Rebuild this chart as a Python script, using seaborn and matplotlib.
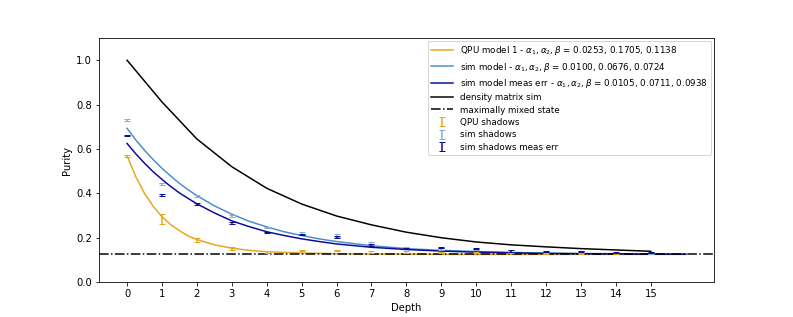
import matplotlib
matplotlib.use("Agg")
import matplotlib.pyplot as plt
import seaborn as sns
import pandas as pd

# depths for the shadow data and the density matrix sim
depths = list(range(16))

# fitted model curves
fit_depths = [0, 0.25, 0.5, 0.75, 1, 1.25, 1.5, 1.75, 2, 2.5, 3, 3.5, 4, 4.5,
              5, 5.5, 6, 7, 8, 9, 10, 11, 12, 13, 14, 15, 16]
qpu_model = [0.570, 0.475, 0.400, 0.341, 0.295, 0.259, 0.232, 0.208, 0.192,
             0.168, 0.153, 0.143, 0.137, 0.134, 0.131, 0.130, 0.128, 0.127,
             0.126, 0.125, 0.125, 0.125, 0.125, 0.125, 0.125, 0.125, 0.125]
sim_model = [0.693, 0.641, 0.594, 0.552, 0.513, 0.478, 0.445, 0.416, 0.390,
             0.344, 0.306, 0.274, 0.249, 0.227, 0.210, 0.195, 0.183, 0.164,
             0.151, 0.143, 0.138, 0.134, 0.131, 0.129, 0.128, 0.127, 0.126]
sim_err_model = [0.625, 0.578, 0.536, 0.497, 0.463, 0.431, 0.402, 0.377, 0.353,
                 0.312, 0.276, 0.250, 0.227, 0.210, 0.195, 0.183, 0.172, 0.157,
                 0.147, 0.140, 0.135, 0.132, 0.129, 0.128, 0.127, 0.126, 0.126]

density_matrix = [1.0, 0.812, 0.645, 0.520, 0.423, 0.352, 0.298, 0.258,
                  0.225, 0.200, 0.181, 0.168, 0.159, 0.151, 0.145, 0.139]
max_mixed = 0.125

# shadow estimates with error bars
qpu_shadows = [0.570, 0.285, 0.190, 0.152, 0.135, 0.142, 0.142, 0.136,
               0.136, 0.135, 0.135, 0.133, 0.130, 0.130, 0.130, 0.130]
qpu_err = [0.004, 0.022, 0.010, 0.005, 0.004, 0.003, 0.003, 0.003,
           0.003, 0.003, 0.003, 0.003, 0.003, 0.003, 0.003, 0.003]
sim_shadows = [0.730, 0.443, 0.388, 0.298, 0.245, 0.222, 0.210, 0.175,
               0.157, 0.150, 0.148, 0.140, 0.137, 0.136, 0.133, 0.132]
sim_err = [0.003, 0.004, 0.004, 0.004, 0.003, 0.004, 0.005, 0.004,
           0.003, 0.003, 0.003, 0.003, 0.003, 0.003, 0.003, 0.003]
simme_shadows = [0.660, 0.392, 0.351, 0.265, 0.223, 0.215, 0.202, 0.169,
                 0.153, 0.155, 0.151, 0.141, 0.138, 0.138, 0.133, 0.133]
simme_err = [0.003, 0.004, 0.004, 0.004, 0.003, 0.004, 0.005, 0.004,
             0.003, 0.003, 0.003, 0.003, 0.003, 0.003, 0.003, 0.003]

yellow = "#e6a620"
light = "#4a8fc6"
light_bar = "#7fb0da"
dark = "#0c0c96"

fits = pd.DataFrame({
    "Depth": fit_depths,
    "qpu": qpu_model,
    "sim": sim_model,
    "simme": sim_err_model,
})
dm = pd.DataFrame({"Depth": depths, "Purity": density_matrix})

fig, ax = plt.subplots(figsize=(793 / 72, 317 / 72), dpi=72)

sns.lineplot(data=fits, x="Depth", y="qpu", color=yellow, estimator=None, ax=ax,
             label=r"QPU model 1 - $\alpha_1, \alpha_2, \beta$ = 0.0253, 0.1705, 0.1138")
sns.lineplot(data=fits, x="Depth", y="sim", color=light, estimator=None, ax=ax,
             label=r"sim model - $\alpha_1, \alpha_2, \beta$ = 0.0100, 0.0676, 0.0724")
sns.lineplot(data=fits, x="Depth", y="simme", color=dark, estimator=None, ax=ax,
             label=r"sim model meas err - $\alpha_1, \alpha_2, \beta$ = 0.0105, 0.0711, 0.0938")
sns.lineplot(data=dm, x="Depth", y="Purity", color="black", estimator=None, ax=ax,
             label="density matrix sim")
ax.axhline(max_mixed, color="black", linestyle="-.", label="maximally mixed state")

ax.errorbar(depths, qpu_shadows, yerr=qpu_err, fmt="none", ecolor=yellow,
            capsize=3, label="QPU shadows")
ax.errorbar(depths, sim_shadows, yerr=sim_err, fmt="none", ecolor=light_bar,
            capsize=3, label="sim shadows")
ax.errorbar(depths, simme_shadows, yerr=simme_err, fmt="none", ecolor=dark,
            capsize=3, label="sim shadows meas err")

ax.set_xticks(depths)
ax.set_xlim(-0.8, 16.8)
ax.set_ylim(0, 1.1)
ax.set_xlabel("Depth")
ax.set_ylabel("Purity")
ax.legend(loc="upper right", fontsize=8.8, labelspacing=0.38,
          handlelength=2.4, borderaxespad=0.3)

fig.savefig("out.png", dpi=72)
